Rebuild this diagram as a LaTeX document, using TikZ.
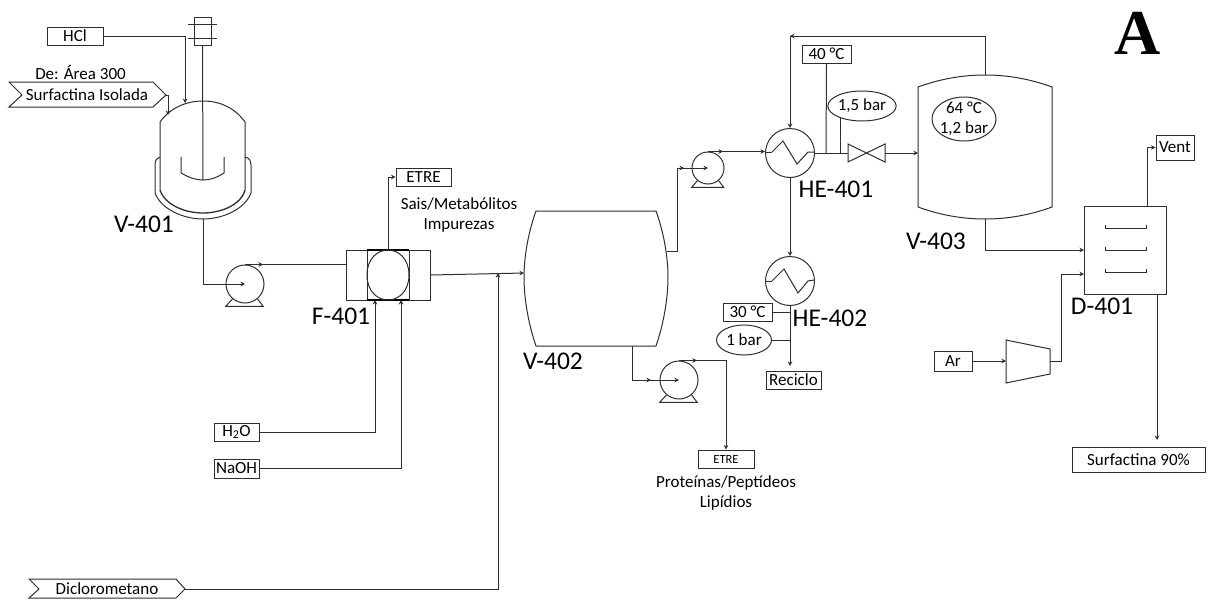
\documentclass[tikz,border=0pt]{standalone}
\usepackage{fontspec}
\setmainfont{Carlito}
\newfontfamily\serifA{Liberation Serif}
\usetikzlibrary{arrows.meta,calc,shapes.geometric}
\definecolor{ln}{gray}{0.18}
\tikzset{
  x=1pt,y=-1pt,
  every path/.style={line width=1pt,draw=ln},
  arr/.style={-{Stealth[length=4.5pt,width=4.5pt]}},
  tbox/.style={draw=ln,rectangle,inner sep=0pt,font=\fontsize{17}{20}\selectfont},
  oval/.style={draw=ln,ellipse,inner sep=0pt,font=\fontsize{17}{20}\selectfont},
  txt/.style={inner sep=0pt,draw=none,font=\fontsize{17}{20}\selectfont},
  tag/.style={inner sep=0pt,draw=none,font=\fontsize{25.5}{30}\selectfont},
  pumpc/.style={draw=ln,circle,inner sep=0pt},
  hx/.style={draw=ln,circle,inner sep=0pt,minimum size=49pt},
}
\begin{document}
\begin{tikzpicture}
\useasboundingbox[draw=none] (0,0) rectangle (1211,600);
% ---- V-401
\coordinate (v1top) at (203,101);
\coordinate (v1bot) at (203,219);
\coordinate (v1in) at (185,103);
\coordinate (v1in2) at (168,115);
\draw (160,190) -- (160,122) .. controls (170,108) and (186,101) .. (v1top) .. controls (220,101) and (235,108) .. (245,122) -- (245,190);
\draw[line width=1.3pt] (160,190) .. controls (165,205) and (185,213) .. (203,213) .. controls (221,213) and (241,205) .. (245,190);
\draw (160,157) .. controls (157,158) and (155,160) .. (155,165) -- (155,193) .. controls (161,209) and (183,219) .. (v1bot) .. controls (223,219) and (245,209) .. (251,193) -- (251,165) .. controls (251,160) and (249,158) .. (245,157);
\draw (181,157) -- (181,173) .. controls (190,178) and (196,180) .. (203,180) .. controls (210,180) and (216,178) .. (224,173) -- (224,157);
% agitator
\node[draw=ln,rectangle,inner sep=0pt,minimum width=17pt,minimum height=28pt] (mot) at (202.5,31) {};
\draw (188,24) -- (217,24);
\draw (188,38) -- (217,38);
\coordinate (shaftend) at (203,180);
\draw (mot.south) -- (shaftend);
% inlets
\node[tbox,minimum width=56pt,minimum height=18pt] (hcl) at (75,36) {HCl};
\draw[arr] (hcl.east) -| (v1in);
\node[txt] (deL) at (80.5,72) {De: Área 300};
\coordinate (ch1) at (166,95);
\draw (9,82) -- (153,82) -- (ch1) -- (153,107) -- (9,107) -- (22,95) -- cycle;
\node[txt] (surf) at (87,95) {Surfactina Isolada};
\draw[arr] (ch1) -| (v1in2);
\node[tag] (v401) at (144,224) {V-401};
% Pump 1
\node[pumpc,minimum size=38pt] (p1) at (245,284) {};
\draw (p1.-130) -- ++(-6.8,7.5) -- ++(37.6,0) -- (p1.-50);
\draw[arr] (v1bot) |- (p1.center);
% F-401
\node[draw=ln,rectangle,inner sep=0pt,minimum width=84pt,minimum height=50pt] (f) at (388,275) {};
\draw (367,250) -- (367,300);
\draw (409,250) -- (409,300);
\draw[line width=1.4pt,draw=black] (367,250) -- (409,250);
\draw[line width=1.4pt,draw=black] (367,300) -- (409,300);
\draw (367,275) .. controls (367,258) and (378,250) .. (388,250) .. controls (398,250) and (409,258) .. (409,275) .. controls (409,292) and (398,300) .. (388,300) .. controls (378,300) and (367,292) .. (367,275) -- cycle;
\draw (p1.north) -- (f.west |- p1.north);
\draw[arr] (p1.north) -- ++(18,0);
\node[tag] (f401) at (341,316) {F-401};
\node[tbox,minimum width=55pt,minimum height=18pt] (etre1) at (423.5,177) {ETRE};
\draw[arr] (f.north) |- (etre1.west);
\node[txt] (sais) at (459,204) {Sais/Metabólitos};
\node[txt] (imp) at (459,225) {Impurezas};
\node[tbox,minimum width=45pt,minimum height=18pt] (h2o) at (236.5,432) {H\textsubscript{2}O};
\node[tbox,minimum width=45pt,minimum height=19pt] (naoh) at (236.5,468.5) {NaOH};
\coordinate (fin1) at (375,300);
\coordinate (fin2) at (401,300);
\draw[arr] (h2o.east) -| (fin1);
\draw[arr] (naoh.east) -| (fin2);
% V-402
\draw (536,211) -- (656,211) .. controls (663,230) and (668,255) .. (668,277) .. controls (668,300) and (663,326) .. (656,346) -- (536,346) .. controls (529,326) and (524,300) .. (524,277) .. controls (524,255) and (529,230) .. (536,211) -- cycle;
\coordinate (v2w) at (524,273);
\coordinate (mix) at (498,273);
\draw[arr] (f.east) -- (v2w);
\node[tag] (v402) at (553,361) {V-402};
% Diclorometano
\coordinate (ch2) at (185,589);
\draw (29,579) -- (176,579) -- (ch2) -- (176,598) -- (29,598) -- (39,589) -- cycle;
\node[txt] (dcm) at (107,589) {Diclorometano};
\draw[arr] (ch2) -| (mix);
% Pump 2
\coordinate (v2e) at (667,251);
\coordinate (jog) at (677,168);
\node[pumpc,minimum size=32pt] (p2) at (708,168) {};
\draw (p2.-130) -- ++(-5.7,6.7) -- ++(32,0) -- (p2.-50);
\draw (v2e) -- (677,251) -- (jog);
\draw[arr] (jog) -- (p2.center);
\draw[arr] (jog) -- ++(7,0);
% HE-401
\node[hx] (he1) at (790,153) {};
\draw[arr] (p2.north) -- ++(15,0);
\draw[arr] (p2.north) -- (he1.west |- p2.north);
\draw (772,152) -- (783,141) -- (797,164) -- (808,152) -- (814,152);
\draw (766,152) -- (772,152);
\node[tag] (he401) at (836,189) {HE-401};
% valve
\coordinate (vl) at (848,153);
\coordinate (vr) at (885,153);
\draw (848,144) -- (885,162) -- (885,144) -- (848,162) -- cycle;
\draw (he1.east) -- (vl);
% V-403
\draw (918,207) -- (918,87) .. controls (940,79) and (962,75) .. (985,75) .. controls (1008,75) and (1030,79) .. (1052,87) -- (1052,207) .. controls (1030,215) and (1008,219) .. (985,219) .. controls (962,219) and (940,215) .. (918,207) -- cycle;
\coordinate (v3w) at (918,153);
\coordinate (v3t) at (985,75);
\coordinate (v3b) at (985,219);
\draw[arr] (vr) -- (v3w);
\node[tag] (v403) at (936,241) {V-403};
\node[draw=ln,ellipse,inner sep=0pt,minimum width=64pt,minimum height=44pt] (st3) at (964,119) {};
\node[txt] (t64) at (964,108) {64 °C};
\node[txt] (b12) at (964,129) {1,2 bar};
% recycle
\coordinate (rc) at (790,36);
\coordinate (rca) at (805,36);
\draw (v3t) |- (rc);
\draw[arr] (rca) -- (rc);
\draw[arr] (rc) -- (he1.north);
% conditions
\node[tbox,minimum width=49pt,minimum height=18pt] (t40) at (826.5,54) {40 °C};
\coordinate (j40) at (826,153);
\draw (t40.south) -- (j40);
\node[oval,minimum width=64pt,minimum height=30pt] (b15) at (862,106) {1,5 bar};
\coordinate (j15) at (840,153);
\coordinate (b15b) at (840,118);
\draw (b15b) -- (j15);
% HE-402
\node[hx] (he2) at (790,281) {};
\draw[arr] (he1.south) -- (he2.north);
\draw (772,281) -- (784,269) -- (798,293) -- (808,281) -- (814,280);
\draw (766,281) -- (772,281);
\node[tag] (he402) at (830,318) {HE-402};
\node[tbox,minimum width=49pt,minimum height=18pt] (t30) at (747.5,312) {30 °C};
\node[oval,minimum width=55pt,minimum height=30pt] (b1) at (744,340) {1 bar};
\node[tbox,minimum width=55pt,minimum height=18pt] (rec) at (793.5,380) {Reciclo};
\coordinate (recin) at (790,366);
\draw[arr] (he2.south) -- (recin);
\draw (t30.east) -- (t30.east -| he2);
\draw (b1.east) -- (b1.east -| he2);
% Pump 3
\coordinate (v2b) at (632,346);
\node[pumpc,minimum size=38pt] (p3) at (679,380) {};
\draw (p3.-130) -- ++(-6.8,7.5) -- ++(37.6,0) -- (p3.-50);
\draw[arr] (v2b) |- (p3.center);
\coordinate (v2bm) at (651,380);
\draw[arr] (v2b |- v2bm) -- (v2bm);
\node[tbox,minimum width=56pt,minimum height=18pt,font=\fontsize{12.5}{15}\selectfont] (etre2) at (726,459) {ETRE};
\draw[arr] (p3.north) -| (etre2.north);
\draw[arr] (p3.north) -- ++(18,0);
\node[txt] (prot) at (726,483) {Proteínas/Peptídeos};
\node[txt] (lip) at (726,503) {Lipídios};
% D-401
\node[draw=ln,rectangle,inner sep=0pt,minimum width=82pt,minimum height=88pt] (d) at (1125,250) {};
\draw (1105,224.5) -- (1105,228) -- (1146,228) -- (1146,224.5);
\draw (1105,246.5) -- (1105,250) -- (1146,250) -- (1146,246.5);
\draw (1105,268.5) -- (1105,272) -- (1146,272) -- (1146,268.5);
\node[tag] (d401) at (1102,306) {D-401};
\coordinate (din1) at (1084,250);
\coordinate (din2) at (1084,274);
\draw[arr] (v3b) |- (din1);
\node[tbox,minimum width=38pt,minimum height=25pt] (vent) at (1175,147.5) {Vent};
\coordinate (dtop) at (1147,206);
\draw[arr] (dtop) |- (vent.west);
\coordinate (dbot) at (1157,294);
\coordinate (s90t) at (1157,440);
\node[tbox,minimum width=133pt,minimum height=25pt] (s90) at (1138.5,459.5) {Surfactina 90\%};
\draw[arr] (dbot) -- (s90t);
% compressor
\node[tbox,minimum width=38pt,minimum height=20pt] (ar) at (953,361) {Ar};
\coordinate (ci) at (1006,361);
\coordinate (ce) at (1050,361);
\coordinate (cj) at (1061,274);
\draw (1006,340) -- (1050,349) -- (1050,374) -- (1006,383) -- cycle;
\draw[arr] (ar.east) -- (ci);
\draw (ce) -| (cj);
\draw[arr] (cj) -- (din2);
% Letter
\node[inner sep=0pt,draw=none,font=\serifA\bfseries\fontsize{64}{66}\selectfont] (A) at (1138,33.5) {A};
\end{tikzpicture}
\end{document}
